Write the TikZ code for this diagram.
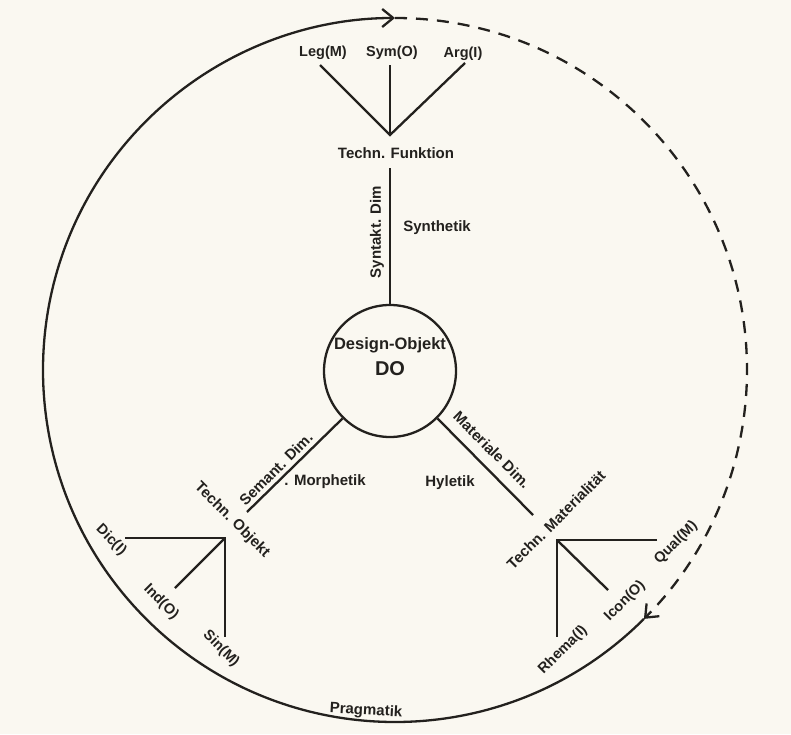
\documentclass[tikz,border=0pt]{standalone}
\usepackage{fontspec}
\setmainfont{Liberation Sans}
\usetikzlibrary{arrows.meta,calc}
\definecolor{paper}{RGB}{250,248,241}
\definecolor{ink}{RGB}{35,33,30}
\begin{document}
\begin{tikzpicture}[x=1pt,y=1pt,
  ln/.style={line width=2.3pt, draw=ink},
  lab/.style={font=\fontsize{15}{15}\selectfont\bfseries, inner sep=1pt, text=ink},
  leaf/.style={font=\fontsize{14.5}{14.5}\selectfont\bfseries, inner sep=1pt, text=ink},
  barb/.style={-{Straight Barb[length=11pt,width=18pt,line width=2.3pt]}}
]
\useasboundingbox[fill=paper] (0,0) rectangle (791,734);

% big cycle
\coordinate (c) at (395,364);
\coordinate (lr) at ($(c)+(-45:352)$);
\coordinate (top) at ($(c)+(90:352)$);
\draw[ln, barb] (lr) arc[start angle=-45, end angle=-270, radius=352];
\draw[ln, barb, dash pattern=on 12pt off 9pt] (top) arc[start angle=90, end angle=-45, radius=352];

% centre
\node[circle, ln, draw, minimum size=132pt, inner sep=0pt] (do) at (390,363) {};
\node[font=\fontsize{16.5}{16.5}\selectfont\bfseries, text=ink, inner sep=1pt] (dot) at (390,389) {Design-Objekt};
\node[font=\fontsize{20}{20}\selectfont\bfseries, text=ink, inner sep=1pt] (doo) at (390,365) {DO};

% axes
\coordinate (ta) at (390,566);
\coordinate (la) at (247,222);
\coordinate (ra) at (533,219);
\draw[ln] (do.north) -- (ta);
\draw[ln] (do.-135) -- (la);
\draw[ln] (do.-45) -- (ra);

\node[lab, rotate=90] (syd) at (377,502) {Syntakt. Dim};
\node[lab] (syn) at (437,506) {Synthetik};
\node[lab, rotate=45] (sed) at (276,265) {Semant. Dim.};
\node[lab] (mor) at (325,252) {. Morphetik};
\node[lab, rotate=-45] (mad) at (492,284) {Materiale Dim.};
\node[lab] (hyl) at (450,251) {Hyletik};
\node[lab, rotate=-3] (pra) at (366,23) {Pragmatik};

% top fan
\node[lab] (tf) at (396,581) {Techn. Funktion};
\coordinate (tap) at (390,599);
\coordinate (t1) at (320,669);
\coordinate (t2) at (390,669);
\coordinate (t3) at (465,671);
\draw[ln] (t1) -- (tap) -- (t3);
\draw[ln] (tap) -- (t2);
\node[leaf] (leg) at (323,681) {Leg(M)};
\node[leaf] (sym) at (392,681) {Sym(O)};
\node[leaf] (arg) at (463,680) {Arg(I)};

% left fan
\node[lab, rotate=-45] (to) at (232,214) {Techn. Objekt};
\coordinate (lap) at (225,196);
\coordinate (l1) at (125,196);
\coordinate (l2) at (175,146);
\coordinate (l3) at (225,97);
\draw[ln] (l1) -- (lap) -- (l3);
\draw[ln] (lap) -- (l2);
\node[leaf, rotate=-45] (dic) at (111,194) {Dic(I)};
\node[leaf, rotate=-45] (ind) at (161,132) {Ind(O)};
\node[leaf, rotate=-45] (sin) at (221,85) {Sin(M)};

% right fan
\node[lab, rotate=45] (tm) at (556,214) {Techn. Materialität};
\coordinate (rap) at (557,194);
\coordinate (r1) at (657,194);
\coordinate (r2) at (608,144);
\coordinate (r3) at (557,97);
\draw[ln] (r1) -- (rap) -- (r3);
\draw[ln] (rap) -- (r2);
\node[leaf, rotate=45] (qual) at (676,191) {Qual(M)};
\node[leaf, rotate=45] (icon) at (625,133) {Icon(O)};
\node[leaf, rotate=45] (rhema) at (563,84) {Rhema(I)};
\end{tikzpicture}
\end{document}
